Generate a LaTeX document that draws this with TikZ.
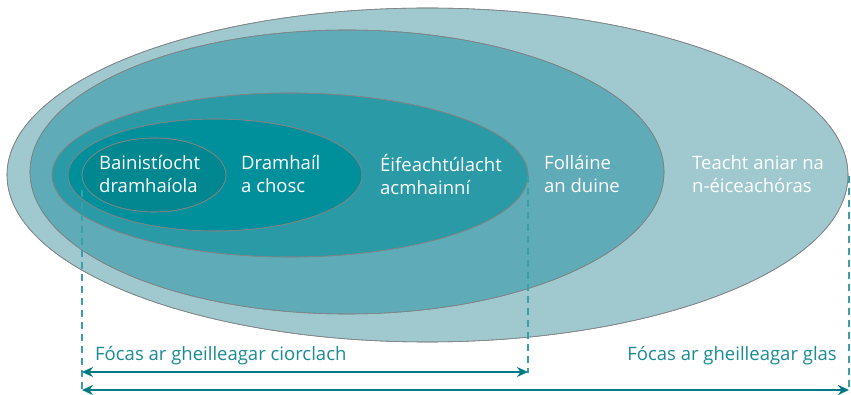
\documentclass[tikz,border=0pt]{standalone}
\usepackage{fontspec}
\setmainfont{Open Sans}
\usetikzlibrary{arrows.meta}
\definecolor{cA}{HTML}{9FC9CF}
\definecolor{cB}{HTML}{60ABB8}
\definecolor{cC}{HTML}{2A9AA6}
\definecolor{cD}{HTML}{00909B}
\definecolor{cE}{HTML}{00878F}
\definecolor{edge}{HTML}{7F8486}
\definecolor{lbl}{HTML}{1A8A94}
\definecolor{arr}{HTML}{007A84}
\definecolor{dsh}{HTML}{3A9FA9}
\begin{document}
\begin{tikzpicture}[x=1pt,y=-1pt,
  ring/.style={draw=edge,line width=0.6pt},
  wtxt/.style={text=white,font=\fontsize{18.5}{23}\selectfont,align=left,anchor=west,inner sep=0pt},
  btxt/.style={text=lbl,font=\fontsize{18.5}{23}\selectfont,inner sep=0pt},
  guide/.style={dsh,line width=1.2pt,dash pattern=on 7pt off 5pt},
  span/.style={arr,line width=2pt,{Stealth[length=11pt,width=10pt]}-{Stealth[length=11pt,width=10pt]}}]
\useasboundingbox (0,0) rectangle (851,395);
\fill[ring,fill=cA] (427.5,175) ellipse [x radius=420.5, y radius=167];
\fill[ring,fill=cB] (347,172) ellipse [x radius=317, y radius=142];
\fill[ring,fill=cC] (290,175) ellipse [x radius=238, y radius=82];
\fill[ring,fill=cD] (215,175) ellipse [x radius=147, y radius=56];
\fill[ring,fill=cE] (154,175) ellipse [x radius=72, y radius=37];
\draw[ring] (427.5,175) ellipse [x radius=420.5, y radius=167];
\draw[ring] (347,172) ellipse [x radius=317, y radius=142];
\draw[ring] (290,175) ellipse [x radius=238, y radius=82];
\draw[ring] (215,175) ellipse [x radius=147, y radius=56];
\draw[ring] (154,175) ellipse [x radius=72, y radius=37];
\node[wtxt] (t1) at (99,174) {Bainistíocht\\dramhaíola};
\node[wtxt] (t2) at (241,174) {Dramhaíl\\a chosc};
\node[wtxt] (t3) at (380,174) {Éifeachtúlacht\\acmhainní};
\node[wtxt] (t4) at (544,174) {Folláine\\an duine};
\node[wtxt] (t5) at (692,174) {Teacht aniar na\\n-éiceachóras};
\coordinate (g1a) at (82,190);
\coordinate (g1b) at (82,392);
\coordinate (g2a) at (528,176);
\coordinate (g2b) at (528,373);
\coordinate (g3a) at (849,176);
\coordinate (g3b) at (849,392);
\draw[guide] (g1a) -- (g1b);
\draw[guide] (g2a) -- (g2b);
\draw[guide] (g3a) -- (g3b);
\coordinate (a1l) at (82,372);
\coordinate (a1r) at (528,372);
\coordinate (a2l) at (82,390);
\coordinate (a2r) at (849,390);
\draw[span] (a1l) -- (a1r);
\draw[span] (a2l) -- (a2r);
\node[btxt,anchor=west] (l1) at (95,356) {Fócas ar gheilleagar ciorclach};
\node[btxt,anchor=east] (l2) at (837,356) {Fócas ar gheilleagar glas};
\end{tikzpicture}
\end{document}
